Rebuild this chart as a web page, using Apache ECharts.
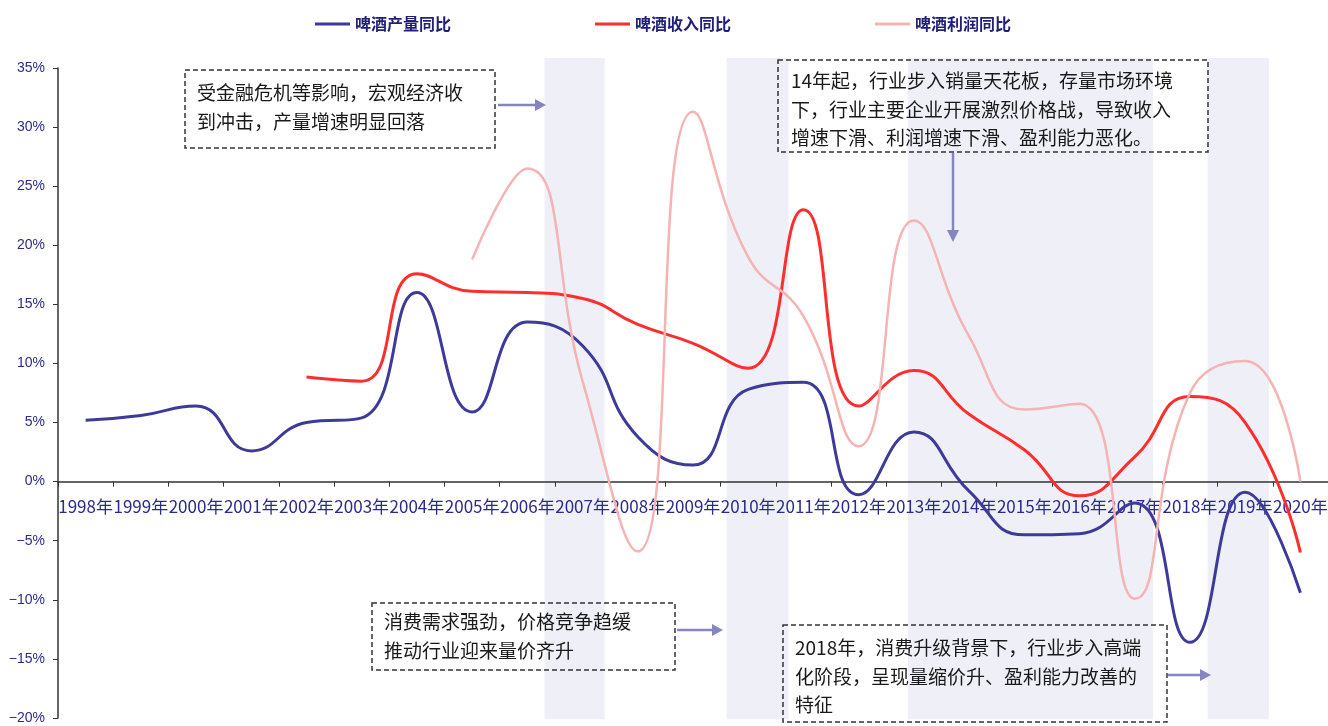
<!DOCTYPE html>
<html>
<head>
    <meta charset="utf-8">
    <title>啤酒产量、收入、利润同比</title>
    <script src="https://cdn.jsdelivr.net/npm/echarts@6/dist/echarts.min.js"></script>
    <style>
        html, body { margin: 0; padding: 0; background: #fff; }
        #main { width: 1328px; height: 726px; }
    </style>
</head>
<body>
<div id="main"></div>
<script type="text/javascript">
    // 数据（%）
    var years = ['1998年', '1999年', '2000年', '2001年', '2002年', '2003年', '2004年', '2005年',
        '2006年', '2007年', '2008年', '2009年', '2010年', '2011年', '2012年', '2013年',
        '2014年', '2015年', '2016年', '2017年', '2018年', '2019年', '2020年'];
    var outputYoy = [5.2, 5.6, 6.4, 2.6, 5.0, 5.4, 16.0, 5.9, 13.5, 11.5, 3.8, 1.4, 7.8, 8.4,
        -1.1, 4.2, -0.8, -4.5, -4.4, -1.8, -13.6, -0.9, -9.4];
    var revenueYoy = [null, null, null, null, 8.85, 8.5, 17.6, 16.1, 16.0, 15.5, 13.3, 11.7, 9.6, 23.0,
        6.4, 9.4, 5.7, 2.7, -1.2, 2.1, 7.2, 5.0, -6.0];
    var profitYoy = [null, null, null, null, null, null, null, 18.8, 26.5, 8.5, -5.9, 31.3, 19.0, 14.0,
        3.0, 22.1, 12.3, 6.1, 6.6, -9.9, 7.5, 10.2, 0.0];
    // 背景阴影区间（按年份坐标，1998 = 第一个类目中心）
    var firstYear = 1998;
    var bandRanges = [[2006.31, 2007.40], [2009.61, 2010.73], [2012.89, 2017.33], [2018.32, 2019.43]];
    var bandTop = 35.85, bandBottom = -20.1;
    var yMin = -20, yMax = 35;

    var gridTop = 68, gridBottom = 8, chartH = 726;
    // 横轴放在 0% 处：从底边向上偏移
    var zeroOffset = -(0 - yMin) / (yMax - yMin) * (chartH - gridTop - gridBottom);

    var navy = '#2b2b8c';
    var myChart = echarts.init(document.getElementById('main'));

    // 最后一维恒为 0，仅用于映射到类目轴第一个类目，不影响轴范围
    var bandData = bandRanges.map(function (b) { return [b[0], b[1], bandTop, bandBottom, 0]; });

    function box(x, y, w, h) {
        return {
            type: 'rect',
            shape: { x: x, y: y, width: w, height: h },
            style: { fill: 'transparent', stroke: '#333', lineWidth: 1.5, lineDash: [5, 3] },
            z: 100
        };
    }
    function label(x, y, txt) {
        return {
            type: 'text',
            x: x, y: y,
            style: {
                text: txt,
                fill: '#1a1a1a',
                font: '19px "Noto Sans CJK SC"',
                lineHeight: 28.5,
                textVerticalAlign: 'top'
            },
            z: 101
        };
    }
    function arrow(x1, y1, x2, y2, head) {
        return [{
            type: 'line',
            shape: { x1: x1, y1: y1, x2: x2, y2: y2 },
            style: { stroke: '#8784c4', lineWidth: 2.5 },
            z: 100
        }, {
            type: 'polygon',
            shape: { points: head },
            style: { fill: '#8784c4' },
            z: 100
        }];
    }

    var graphics = [
        box(185, 70, 310, 78),
        label(197, 79, '受金融危机等影响，宏观经济收\n到冲击，产量增速明显回落'),
        box(778, 60, 430, 92),
        label(791, 67, '14年起，行业步入销量天花板，存量市场环境\n下，行业主要企业开展激烈价格战，导致收入\n增速下滑、利润增速下滑、盈利能力恶化。'),
        box(372, 603, 303, 67),
        label(384, 608, '消费需求强劲，价格竞争趋缓\n推动行业迎来量价齐升'),
        box(783, 625, 384, 97),
        label(795, 634, '2018年，消费升级背景下，行业步入高端\n化阶段，呈现量缩价升、盈利能力改善的\n特征')
    ]
        .concat(arrow(498, 105, 536, 105, [[535, 99], [546, 105], [535, 111]]))
        .concat(arrow(953, 153, 953, 231, [[947, 230], [953, 242], [959, 230]]))
        .concat(arrow(677, 630, 713, 630, [[712, 624], [723, 630], [712, 636]]))
        .concat(arrow(1168, 675, 1201, 675, [[1200, 669], [1211, 675], [1200, 681]]));

    var option = {
        backgroundColor: '#fff',
        animation: false,
        legend: {
            top: 11,
            left: 310,
            itemWidth: 35,
            itemHeight: 3,
            itemGap: 144,
            icon: 'rect',
            textStyle: {
                color: '#1f1f7a',
                fontSize: 16,
                fontWeight: 'bold',
                fontFamily: '"Noto Sans CJK SC"'
            },
            data: ['啤酒产量同比', '啤酒收入同比', '啤酒利润同比']
        },
        grid: { left: 58, right: 0, top: gridTop, bottom: gridBottom, containLabel: false, outerBoundsMode: 'none' },
        xAxis: {
            type: 'category',
            data: years,
            boundaryGap: true,
            offset: zeroOffset,
            axisLine: { onZero: false, lineStyle: { color: '#333', width: 1.5 } },
            axisTick: { show: true, length: 5, lineStyle: { color: '#333' } },
            axisLabel: {
                interval: 0,
                margin: 16,
                color: navy,
                fontSize: 17,
                fontFamily: '"Liberation Sans Narrow", "Noto Sans CJK SC", sans-serif'
            },
            splitLine: { show: false }
        },
        yAxis: {
            type: 'value',
            min: yMin,
            max: yMax,
            interval: 5,
            axisLine: { show: true, lineStyle: { color: '#333', width: 1.5 } },
            axisTick: { show: true, length: 5, lineStyle: { color: '#333' } },
            axisLabel: {
                margin: 13,
                color: navy,
                fontSize: 14,
                fontFamily: 'Arial, "Liberation Sans", sans-serif',
                formatter: function (v) { return String(v).replace('-', '−') + '%'; }
            },
            splitLine: { show: false }
        },
        graphic: graphics,
        series: [
            {
                type: 'custom',
                name: 'bands',
                silent: true,
                z: 0,
                encode: { x: 4, y: [2, 3] },
                data: bandData,
                renderItem: function (params, api) {
                    var c0 = api.coord([0, api.value(2)]);
                    var c1 = api.coord([0, api.value(3)]);
                    var w = api.size([1, 0])[0];
                    var x0 = c0[0] + (api.value(0) - firstYear) * w;
                    var x1 = c0[0] + (api.value(1) - firstYear) * w;
                    return {
                        type: 'rect',
                        shape: { x: x0, y: c0[1], width: x1 - x0, height: c1[1] - c0[1] },
                        style: { fill: '#efeff7' }
                    };
                }
            },
            {
                name: '啤酒产量同比',
                type: 'line',
                data: outputYoy,
                smooth: 0.5,
                symbol: 'none',
                z: 3,
                lineStyle: { color: '#3d3a99', width: 3 },
                itemStyle: { color: '#3d3a99' }
            },
            {
                name: '啤酒收入同比',
                type: 'line',
                data: revenueYoy,
                smooth: 0.5,
                symbol: 'none',
                z: 3,
                lineStyle: { color: '#ff2e2e', width: 3 },
                itemStyle: { color: '#ff2e2e' }
            },
            {
                name: '啤酒利润同比',
                type: 'line',
                data: profitYoy,
                smooth: 0.5,
                symbol: 'none',
                z: 3,
                lineStyle: { color: '#f5b3b3', width: 2.5 },
                itemStyle: { color: '#f5b3b3' }
            }
        ]
    };

    myChart.setOption(option);
</script>
</body>
</html>
